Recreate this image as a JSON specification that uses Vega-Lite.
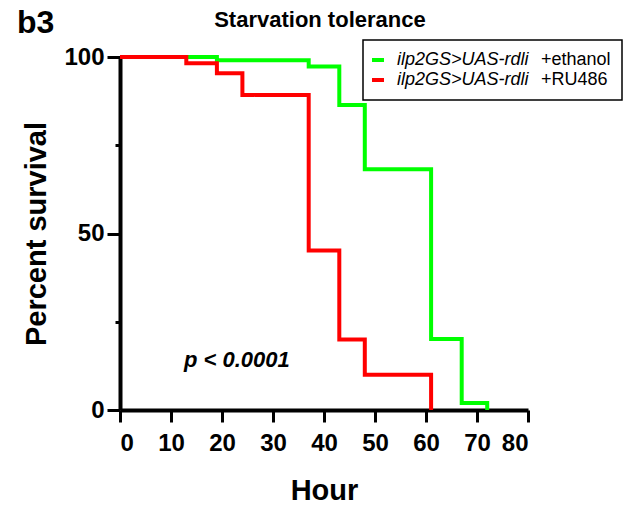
{
  "$schema": "https://vega.github.io/schema/vega-lite/v6.json",
  "width": 408,
  "height": 353,
  "autosize": {"type": "none"},
  "padding": {"left": 120, "top": 57, "right": 110, "bottom": 100},
  "background": "white",
  "config": {
    "font": "Liberation Sans",
    "view": {"stroke": null},
    "axis": {
      "grid": false,
      "domainColor": "black",
      "domainWidth": 4,
      "tickColor": "black",
      "tickWidth": 3,
      "labelColor": "black",
      "labelFont": "Liberation Sans",
      "labelFontSize": 24,
      "labelFontWeight": "bold",
      "titleColor": "black",
      "titleFont": "Liberation Sans",
      "titleFontSize": 29,
      "titleFontWeight": "bold"
    },
    "legend": {"strokeWidth": 1.5}
  },
  "data": {
    "values": [
      {"hour": 0, "survival": 100, "condition": "ilp2GS>UAS-rdli +ethanol", "treatment": "+ethanol"},
      {"hour": 19, "survival": 99.1, "condition": "ilp2GS>UAS-rdli +ethanol", "treatment": "+ethanol"},
      {"hour": 37, "survival": 97.3, "condition": "ilp2GS>UAS-rdli +ethanol", "treatment": "+ethanol"},
      {"hour": 43, "survival": 86.4, "condition": "ilp2GS>UAS-rdli +ethanol", "treatment": "+ethanol"},
      {"hour": 48, "survival": 68.2, "condition": "ilp2GS>UAS-rdli +ethanol", "treatment": "+ethanol"},
      {"hour": 61, "survival": 20.1, "condition": "ilp2GS>UAS-rdli +ethanol", "treatment": "+ethanol"},
      {"hour": 67, "survival": 2, "condition": "ilp2GS>UAS-rdli +ethanol", "treatment": "+ethanol"},
      {"hour": 72, "survival": 0, "condition": "ilp2GS>UAS-rdli +ethanol", "treatment": "+ethanol"},
      {"hour": 0, "survival": 100, "condition": "ilp2GS>UAS-rdli +RU486", "treatment": "+RU486"},
      {"hour": 13, "survival": 98.2, "condition": "ilp2GS>UAS-rdli +RU486", "treatment": "+RU486"},
      {"hour": 19, "survival": 95.4, "condition": "ilp2GS>UAS-rdli +RU486", "treatment": "+RU486"},
      {"hour": 24, "survival": 89.2, "condition": "ilp2GS>UAS-rdli +RU486", "treatment": "+RU486"},
      {"hour": 37, "survival": 45.2, "condition": "ilp2GS>UAS-rdli +RU486", "treatment": "+RU486"},
      {"hour": 43, "survival": 20, "condition": "ilp2GS>UAS-rdli +RU486", "treatment": "+RU486"},
      {"hour": 48, "survival": 10, "condition": "ilp2GS>UAS-rdli +RU486", "treatment": "+RU486"},
      {"hour": 61, "survival": 0, "condition": "ilp2GS>UAS-rdli +RU486", "treatment": "+RU486"}
    ]
  },
  "layer": [
    {
      "transform": [{"filter": "datum.treatment === '+ethanol'"}],
      "mark": {"type": "line", "interpolate": "step-after", "strokeWidth": 4, "strokeCap": "butt", "strokeJoin": "miter"},
      "encoding": {
        "x": {
          "field": "hour",
          "type": "quantitative",
          "title": "Hour",
          "scale": {"domain": [0, 80], "nice": false},
          "axis": {"values": [0, 10, 20, 30, 40, 50, 60, 70, 80], "tickSize": 12, "labelPadding": 9, "titlePadding": 21}
        },
        "y": {
          "field": "survival",
          "type": "quantitative",
          "title": "Percent survival",
          "scale": {"domain": [0, 100], "nice": false},
          "axis": {
            "values": [0, 25, 50, 75, 100],
            "labelExpr": "datum.value % 50 === 0 ? datum.label : ''",
            "tickSize": {"condition": {"test": "datum.value % 50 !== 0", "value": 5}, "value": 13},
            "labelPadding": 3,
            "titlePadding": 12
          }
        },
        "color": {
          "field": "condition",
          "type": "nominal",
          "scale": {"domain": ["ilp2GS>UAS-rdli +ethanol", "ilp2GS>UAS-rdli +RU486"], "range": ["#00ff00", "#ff0000"]},
          "legend": {
            "title": null,
            "orient": "none",
            "legendX": 243,
            "legendY": -17,
            "padding": 11,
            "symbolOffset": -5,
            "symbolType": "stroke",
            "symbolSize": 144,
            "symbolStrokeWidth": 4,
            "labelFontSize": 18,
            "labelFontStyle": "italic",
            "labelColor": "black",
            "labelOffset": 10,
            "labelExpr": "split(datum.label, ' ')[0]"
          }
        },
        "strokeDash": {
          "field": "treatment",
          "type": "nominal",
          "scale": {"domain": ["+ethanol", "+RU486"], "range": [[1, 0], [1, 0]]},
          "legend": {
            "title": null,
            "orient": "none",
            "legendX": 243,
            "legendY": -17,
            "padding": 11,
            "symbolOffset": -5,
            "symbolType": "stroke",
            "symbolSize": 144,
            "symbolStrokeWidth": 4,
            "symbolOpacity": 0,
            "labelFontSize": 18,
            "labelColor": "black",
            "labelOffset": 154,
            "labelExpr": "datum.label + '         '",
            "strokeColor": "black"
          }
        }
      }
    },
    {
      "transform": [{"filter": "datum.treatment === '+RU486'"}],
      "mark": {"type": "line", "interpolate": "step-after", "strokeWidth": 4, "strokeCap": "butt", "strokeJoin": "miter"},
      "encoding": {
        "x": {"field": "hour", "type": "quantitative", "title": "Hour"},
        "y": {"field": "survival", "type": "quantitative", "title": "Percent survival"},
        "color": {"field": "condition", "type": "nominal"},
        "strokeDash": {"field": "treatment", "type": "nominal"}
      }
    },
    {
      "data": {"values": [{"note": "p < 0.0001"}]},
      "mark": {"type": "text", "fontSize": 22, "fontWeight": "bold", "fontStyle": "italic", "align": "center", "baseline": "alphabetic", "color": "black"},
      "encoding": {
        "x": {"datum": 22.9, "type": "quantitative", "title": "Hour"},
        "y": {"datum": 12.2, "type": "quantitative", "title": "Percent survival"},
        "text": {"field": "note", "type": "nominal"}
      }
    },
    {
      "data": {"values": [{"heading": "Starvation tolerance"}]},
      "mark": {"type": "text", "fontSize": 22, "fontWeight": "bold", "align": "center", "baseline": "alphabetic", "color": "black"},
      "encoding": {
        "x": {"datum": 39.2, "type": "quantitative", "title": "Hour"},
        "y": {"datum": 108.5, "type": "quantitative", "title": "Percent survival"},
        "text": {"field": "heading", "type": "nominal"}
      }
    },
    {
      "data": {"values": [{"panel": "b3"}]},
      "mark": {"type": "text", "fontSize": 32, "fontWeight": "bold", "align": "left", "baseline": "alphabetic", "color": "black"},
      "encoding": {
        "x": {"datum": -20.2, "type": "quantitative", "title": "Hour"},
        "y": {"datum": 106.8, "type": "quantitative", "title": "Percent survival"},
        "text": {"field": "panel", "type": "nominal"}
      }
    }
  ]
}
